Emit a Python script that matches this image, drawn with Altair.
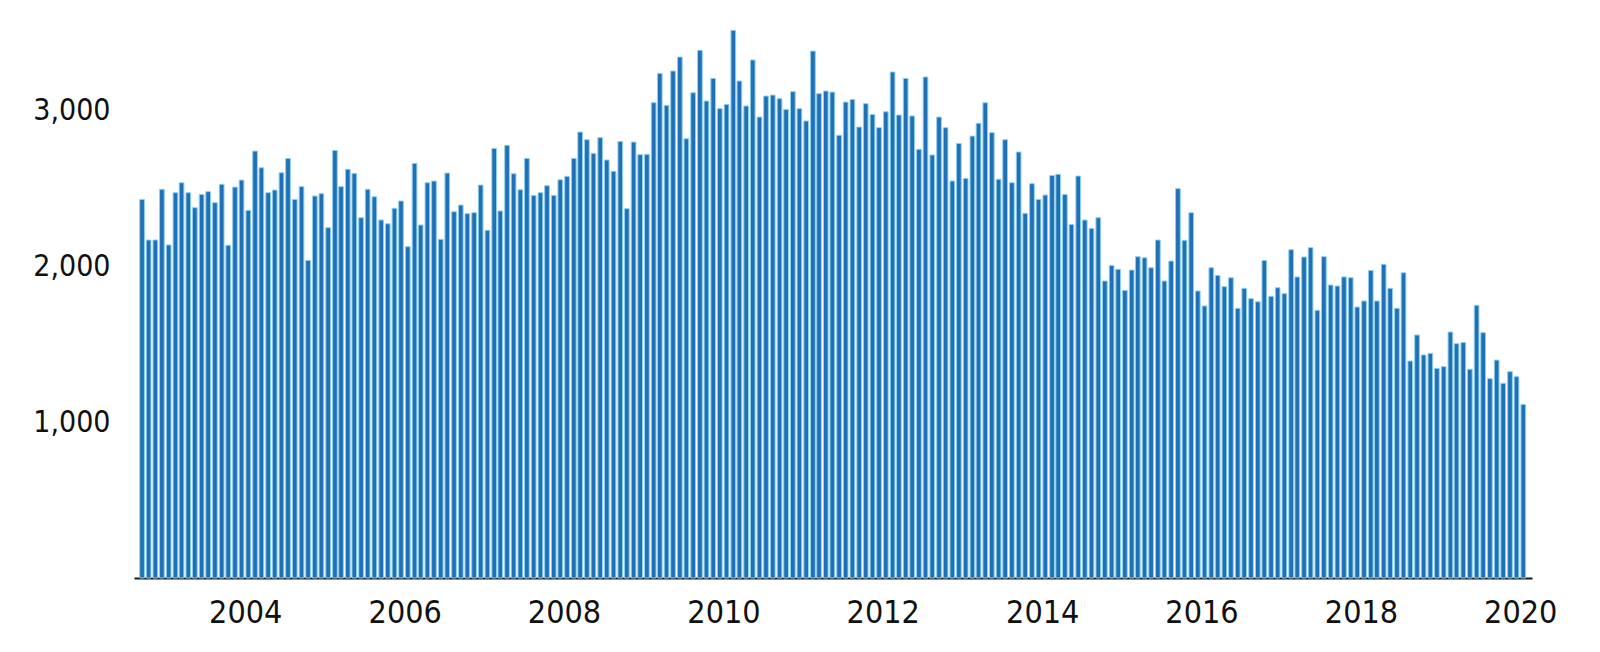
import altair as alt
import pandas as pd

# Monthly values, Sep 2002 .. Jan 2020
start_month = "2002-09-01"
values = [
    2427, 2167, 2167, 2492, 2135, 2470, 2534, 2470, 2374, 2459, 2477, 2406,
    2524, 2133, 2506, 2551, 2357, 2737, 2630, 2470, 2487, 2598, 2690, 2427,
    2509, 2036, 2449, 2464, 2246, 2741, 2509, 2620, 2594, 2310, 2492, 2444,
    2295, 2271, 2370, 2417, 2124, 2658, 2263, 2534, 2545, 2171, 2596, 2348,
    2391, 2336, 2342, 2519, 2229, 2754, 2353, 2774, 2592, 2489, 2690, 2453,
    2470, 2515, 2453, 2553, 2575, 2690, 2859, 2810, 2722, 2823, 2680, 2607,
    2799, 2368, 2795, 2714, 2716, 3047, 3235, 3030, 3250, 3340, 2816, 3111,
    3383, 3058, 3203, 3009, 3036, 3511, 3186, 3026, 3321, 2955, 3090, 3096,
    3073, 3004, 3118, 3009, 2930, 3378, 3105, 3122, 3115, 2838, 3051, 3068,
    2891, 3041, 2972, 2887, 2989, 3244, 2968, 3203, 2962, 2748, 3212, 2712,
    2955, 2887, 2545, 2786, 2562, 2833, 2915, 3047, 2855, 2556, 2810, 2534,
    2731, 2338, 2528, 2427, 2455, 2581, 2588, 2459, 2267, 2577, 2295, 2241,
    2310, 1904, 2004, 1979, 1844, 1974, 2060, 2053, 1989, 2167, 1904, 2032,
    2496, 2165, 2342, 1840, 1744, 1989, 1940, 1868, 1925, 1729, 1857, 1791,
    1771, 2036, 1806, 1861, 1823, 2105, 1930, 2058, 2118, 1716, 2060, 1878,
    1872, 1930, 1925, 1737, 1776, 1972, 1776, 2011, 1857, 1729, 1957, 1391,
    1558, 1430, 1440, 1344, 1355, 1577, 1502, 1509, 1338, 1748, 1573, 1278,
    1397, 1248, 1323, 1291, 1113,
]
x_label_years = [2004, 2006, 2008, 2010, 2012, 2014, 2016, 2018, 2020]
y_label_values = [1000, 2000, 3000]

dates = pd.date_range(start_month, periods=len(values), freq="MS") + pd.Timedelta(days=14)
df = pd.DataFrame({"date": dates.strftime("%Y-%m-%d"), "value": values})

FONT = "DejaVu Sans Condensed"

chart = (
    alt.Chart(df)
    .mark_bar(width=4.7, fill="#1f70b4", stroke="#8fcfee", strokeWidth=1)
    .encode(
        x=alt.X(
            "date:T",
            scale=alt.Scale(
                domain=[
                    alt.DateTime(year=2002, month=9, date=1),
                    alt.DateTime(year=2020, month=2, date=1),
                ]
            ),
            axis=alt.Axis(
                values=[alt.DateTime(year=y, month=1, date=1) for y in x_label_years],
                format="%Y",
                title=None,
                grid=False,
                ticks=False,
                tickSize=0,
                domain=True,
                domainColor="#1a1a1a",
                domainWidth=2,
                labelPadding=19,
                labelFont=FONT,
                labelFontSize=32,
                labelColor="#111111",
                labelFlush=False,
                labelOverlap=False,
            ),
        ),
        y=alt.Y(
            "value:Q",
            scale=alt.Scale(domain=[0, 3603], nice=False, zero=True),
            axis=alt.Axis(
                values=y_label_values,
                format=",.0f",
                title=None,
                grid=False,
                ticks=False,
                tickSize=0,
                domain=False,
                labelPadding=24,
                labelFont=FONT,
                labelFontSize=30,
                labelColor="#111111",
            ),
        ),
    )
    .properties(
        width=1398,
        height=562,
        autosize=alt.AutoSizeParams(type="none"),
        padding={"left": 126, "top": 8, "right": 50, "bottom": 60},
        background="white",
    )
    .configure_view(stroke=None)
)

chart.save("out.html", embed_options={"renderer": "svg", "actions": False})
